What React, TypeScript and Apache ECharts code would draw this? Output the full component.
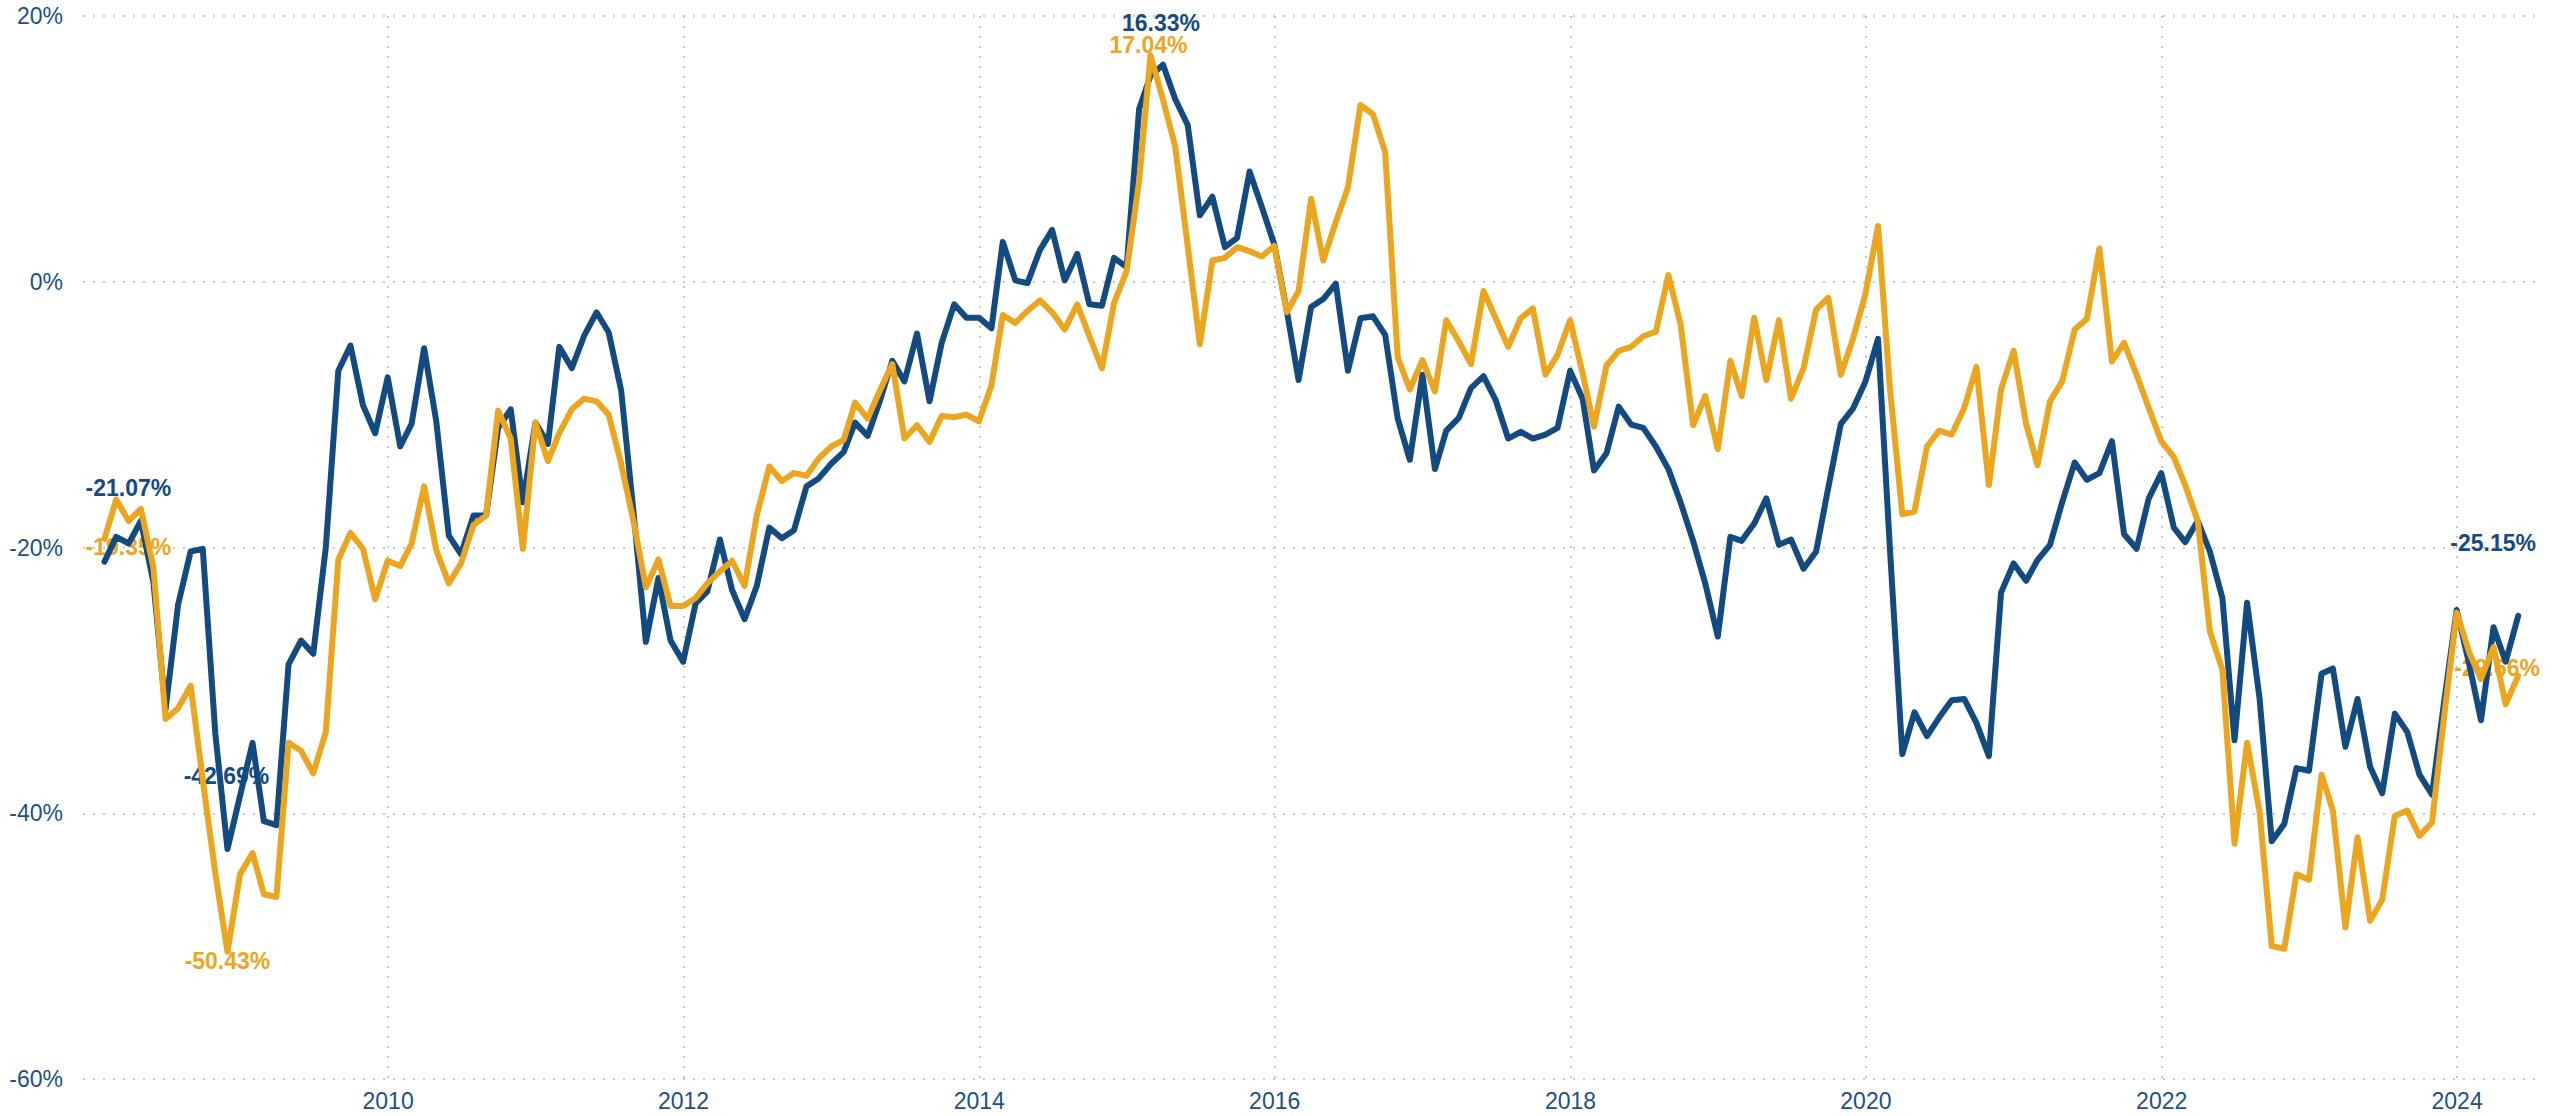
import React, { useEffect, useRef } from 'react';
import * as echarts from 'echarts';

// ---- data -------------------------------------------------------------
// Monthly (month-end) observations, January 2008 .. May 2024
const START_YEAR = 2008;
const START_MONTH_INDEX = 0; // January

const X_MIN = '2007-12-09';
const X_MAX = '2024-07-14';
const YEAR_TICKS = [2010, 2012, 2014, 2016, 2018, 2020, 2022, 2024];
const Y_MIN = -60;
const Y_MAX = 20;
const Y_STEP = 20;

const SERIES_BLUE_NAME = 'Series 1';
const seriesBlue = [
  -21.07, -19.2, -19.7, -18.0, -22.6, -32.2, -24.3, -20.3, -20.1, -34.0, -42.69, -38.7,
  -34.7, -40.6, -40.9, -28.8, -27.0, -28.0, -20.0, -6.7, -4.8, -9.3, -11.4, -7.2,
  -12.4, -10.7, -5.0, -10.5, -19.1, -20.5, -17.6, -17.6, -11.0, -9.6, -16.6, -10.6,
  -12.2, -4.9, -6.5, -4.1, -2.3, -3.8, -8.2, -17.5, -27.1, -22.3, -27.0, -28.6,
  -24.2, -23.3, -19.4, -23.2, -25.4, -22.9, -18.5, -19.3, -18.7, -15.4, -14.8, -13.7,
  -12.8, -10.6, -11.6, -9.0, -5.95, -7.5, -3.9, -9.0, -4.6, -1.7, -2.7, -2.7,
  -3.5, 3.0, 0.1, -0.1, 2.4, 3.9, 0.1, 2.1, -1.7, -1.8, 1.8, 1.1,
  13.0, 15.5, 16.33, 13.75, 11.8, 5.0, 6.4, 2.6, 3.3, 8.3, 5.65, 2.8,
  -2.2, -7.4, -1.9, -1.3, -0.14, -6.7, -2.75, -2.6, -4.0, -10.3, -13.4, -7.0,
  -14.1, -11.2, -10.25, -8.0, -7.1, -8.9, -11.8, -11.3, -11.8, -11.5, -11.0, -6.7,
  -8.8, -14.2, -12.9, -9.4, -10.75, -11.0, -12.4, -14.1, -16.6, -19.5, -22.7, -26.7,
  -19.2, -19.5, -18.2, -16.3, -19.8, -19.4, -21.6, -20.3, -15.5, -10.7, -9.55, -7.5,
  -4.3, -19.9, -35.55, -32.4, -34.2, -32.8, -31.5, -31.4, -33.2, -35.7, -23.4, -21.2,
  -22.5, -20.95, -19.8, -16.6, -13.6, -14.9, -14.4, -12.0, -19.0, -20.1, -16.3, -14.4,
  -18.5, -19.6, -18.0, -20.3, -23.8, -34.5, -24.15, -31.4, -42.1, -40.8, -36.6, -36.8,
  -29.5, -29.1, -35.0, -31.4, -36.5, -38.5, -32.5, -33.9, -37.1, -38.6, -31.6, -24.7,
  -28.8, -33.0, -26.0, -28.6, -25.15,
];

const SERIES_ORANGE_NAME = 'Series 2';
const seriesOrange = [
  -19.35, -16.4, -18.0, -17.1, -21.5, -32.9, -32.1, -30.4, -37.5, -44.5, -50.43, -44.6,
  -43.0, -46.1, -46.3, -34.7, -35.3, -37.0, -33.9, -20.9, -18.9, -20.1, -23.9, -21.0,
  -21.4, -19.7, -15.4, -20.2, -22.7, -21.2, -18.3, -17.6, -9.7, -11.8, -20.1, -10.6,
  -13.5, -11.4, -9.6, -8.8, -9.0, -10.0, -13.7, -18.1, -23.0, -20.9, -24.4, -24.4,
  -23.8, -22.7, -21.8, -21.0, -22.9, -17.6, -13.9, -15.0, -14.4, -14.6, -13.3, -12.4,
  -11.9, -9.1, -10.3, -8.2, -6.2, -11.8, -10.8, -12.05, -10.1, -10.2, -10.0, -10.5,
  -7.8, -2.5, -3.1, -2.2, -1.4, -2.3, -3.6, -1.7, -4.1, -6.5, -1.6, 0.8,
  7.6, 17.04, 13.7, 10.2, 2.7, -4.7, 1.6, 1.8, 2.6, 2.3, 1.9, 2.7,
  -2.3, -0.7, 6.25, 1.6, 4.5, 7.1, 13.3, 12.6, 9.75, -5.7, -8.1, -5.9,
  -8.25, -2.9, -4.5, -6.2, -0.7, -2.75, -4.9, -2.75, -2.0, -7.0, -5.5, -2.9,
  -6.9, -10.9, -6.3, -5.2, -4.9, -4.1, -3.75, 0.5, -3.2, -10.8, -8.6, -12.6,
  -5.95, -8.6, -2.7, -7.4, -2.9, -8.8, -6.5, -2.1, -1.2, -7.0, -4.3, -0.9,
  4.2, -7.9, -17.5, -17.3, -12.4, -11.2, -11.5, -9.5, -6.4, -15.3, -8.1, -5.2,
  -10.7, -13.8, -9.0, -7.5, -3.6, -2.8, 2.5, -6.0, -4.6, -7.0, -9.5, -12.0,
  -13.2, -15.3, -18.0, -26.3, -29.2, -42.3, -34.7, -39.9, -50.0, -50.2, -44.6, -45.0,
  -37.1, -39.8, -48.6, -41.8, -48.1, -46.5, -40.2, -39.8, -41.7, -40.7, -32.7, -24.9,
  -27.9, -29.9, -27.5, -31.8, -29.66,
];

// ---- styling ----------------------------------------------------------
const BLUE = '#134a80';
const ORANGE = '#eba51e';
const AXIS_TEXT = '#1d4f86';
const GRID_COLOR = '#c9c9c9';
const FONT = '"Liberation Sans", Arial, Helvetica, sans-serif';

// label offsets (px) relative to the labelled point: [first, min, max, last]
const BLUE_LABEL_OFFSETS = { first: [24, -74], min: [-1, -73], max: [-2, -42], last: [-25, -73] };
const ORANGE_LABEL_OFFSETS = { first: [24, 8], min: [0, 9], max: [-2, -10], last: [-21, -8] };

function monthEnd(i: number): number {
  return Date.UTC(START_YEAR, START_MONTH_INDEX + i + 1, 0);
}

function buildLabelPoints(values: number[], offsets: Record<string, number[]>) {
  let minI = 0;
  let maxI = 0;
  values.forEach((v, i) => {
    if (v < values[minI]) minI = i;
    if (v > values[maxI]) maxI = i;
  });
  const picks: [number, number[]][] = [
    [0, offsets.first],
    [minI, offsets.min],
    [maxI, offsets.max],
    [values.length - 1, offsets.last],
  ];
  return picks.map(([i, off]) => ({
    coord: [monthEnd(i), values[i]],
    value: values[i],
    label: { offset: off },
  }));
}

function makeSeries(name: string, values: number[], color: string, z: number, offsets: Record<string, number[]>) {
  return {
    name,
    type: 'line',
    z,
    data: values.map((v, i) => [monthEnd(i), v]),
    showSymbol: false,
    symbol: 'none',
    lineStyle: { color, width: 6, join: 'round', cap: 'round' },
    itemStyle: { color },
    emphasis: { disabled: true },
    markPoint: {
      z: 1,
      silent: true,
      symbol: 'circle',
      symbolSize: 1,
      itemStyle: { color: 'rgba(0,0,0,0)' },
      label: {
        show: true,
        position: 'inside',
        color,
        fontFamily: FONT,
        fontSize: 23,
        fontWeight: 'bold',
        formatter: (p: any) => `${Number(p.value).toFixed(2)}%`,
      },
      data: buildLabelPoints(values, offsets),
    },
  };
}

export default function App() {
  const ref = useRef<HTMLDivElement>(null);

  useEffect(() => {
    if (!ref.current) return;
    const chart = echarts.init(ref.current, null, { renderer: 'svg' });
    const yearTs = YEAR_TICKS.map((y) => Date.UTC(y, 0, 1));
    const dotted = { color: GRID_COLOR, width: 2, type: [2, 8] as any };

    chart.setOption({
      animation: false,
      backgroundColor: '#ffffff',
      grid: { left: 83, right: 23, top: 16, bottom: 37, containLabel: false },
      xAxis: {
        type: 'value',
        min: new Date(X_MIN + 'T00:00:00Z').getTime(),
        max: new Date(X_MAX + 'T00:00:00Z').getTime(),
        axisLine: { show: false },
        axisTick: { show: false, customValues: yearTs },
        axisLabel: {
          customValues: yearTs,
          color: AXIS_TEXT,
          fontFamily: FONT,
          fontSize: 23,
          margin: 10,
          formatter: (v: number) => String(new Date(v).getUTCFullYear()),
        },
        splitLine: { show: true, lineStyle: dotted },
      },
      yAxis: {
        type: 'value',
        min: Y_MIN,
        max: Y_MAX,
        interval: Y_STEP,
        axisLine: { show: false },
        axisTick: { show: false },
        axisLabel: {
          color: AXIS_TEXT,
          fontFamily: FONT,
          fontSize: 23,
          margin: 20,
          formatter: '{value}%',
        },
        splitLine: { show: true, lineStyle: dotted },
      },
      series: [
        makeSeries(SERIES_BLUE_NAME, seriesBlue, BLUE, 2, BLUE_LABEL_OFFSETS),
        makeSeries(SERIES_ORANGE_NAME, seriesOrange, ORANGE, 3, ORANGE_LABEL_OFFSETS),
      ],
    });

    return () => chart.dispose();
  }, []);

  return (
    <div
      ref={ref}
      style={{ position: 'fixed', left: 0, top: 0, width: 2559, height: 1116, background: '#fff' }}
    />
  );
}
